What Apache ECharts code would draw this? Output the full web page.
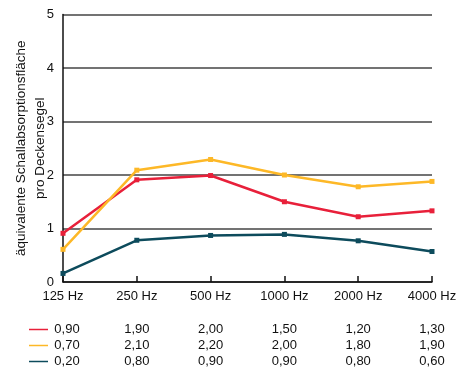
<!DOCTYPE html>
<html><head><meta charset="utf-8">
<script src="https://cdn.jsdelivr.net/npm/echarts@6/dist/echarts.min.js"></script>
<style>html,body{margin:0;padding:0;background:#fff}#c{width:470px;height:369px}</style>
</head><body><div id="c"></div>
<script>
const categories = ['125 Hz','250 Hz','500 Hz','1000 Hz','2000 Hz','4000 Hz'];
const yTicks = [0,1,2,3,4,5];
const redValues = [0.91,1.91,1.99,1.50,1.22,1.33];
const yellowValues = [0.61,2.09,2.29,2.00,1.78,1.88];
const tealValues = [0.16,0.78,0.87,0.89,0.77,0.57];
const redTable = ['0,90','1,90','2,00','1,50','1,20','1,30'];
const yellowTable = ['0,70','2,10','2,20','2,00','1,80','1,90'];
const tealTable = ['0,20','0,80','0,90','0,90','0,80','0,60'];
const colors = ['#e8203a','#fdb827','#0d4b5c'];
const FONT = '"Liberation Sans", Arial, sans-serif';

const chart = echarts.init(document.getElementById('c'), null, {renderer:'canvas'});
function ser(data, color){
  return {type:'line', data, symbol:'rect', symbolSize:5, showSymbol:true,
    lineStyle:{color, width:2.5}, itemStyle:{color}, animation:false, z:3};
}
chart.setOption({
  animation:false,
  grid:{left:63, right:38, top:14.5, bottom:87, containLabel:false, outerBoundsMode:'none'},
  xAxis:{type:'category', data:categories, boundaryGap:false,
    axisLine:{lineStyle:{color:'#111', width:1.5}},
    axisTick:{inside:true, length:6, lineStyle:{color:'#111', width:1.5}},
    axisLabel:{color:'#111', fontSize:13, fontFamily:FONT, margin:8}},
  yAxis:{type:'value', min:yTicks[0], max:yTicks[yTicks.length-1], interval:1,
    name:'äquivalente Schallabsorptionsfläche\npro Deckensegel', nameLocation:'middle', nameGap:13,
    nameMoveOverlap:false,
    nameTextStyle:{color:'#111', fontSize:13.5, fontFamily:FONT, lineHeight:19},
    axisLine:{show:true, lineStyle:{color:'#111', width:1.5}},
    axisTick:{show:false},
    splitLine:{lineStyle:{color:'#444', width:1.5}},
    axisLabel:{color:'#111', fontSize:13, fontFamily:FONT, margin:9}},
  series:[ser(redValues,colors[0]), ser(yellowValues,colors[1]), ser(tealValues,colors[2])]
});

const rows = [redTable, yellowTable, tealTable];
const rowY = [329.5, 345.5, 361.5];
const g = [];
rows.forEach((row, r) => {
  g.push({type:'line', shape:{x1:29, y1:rowY[r], x2:48, y2:rowY[r]}, style:{stroke:colors[r], lineWidth:1.5}});
  row.forEach((t, i) => {
    const x = chart.convertToPixel({xAxisIndex:0}, categories[i]) + (i===0 ? 4 : 0);
    g.push({type:'text', x, y:rowY[r], style:{text:t, fill:'#111', fontSize:13, fontFamily:FONT, align:'center', verticalAlign:'middle'}});
  });
});
chart.setOption({graphic:g});
</script></body></html>
